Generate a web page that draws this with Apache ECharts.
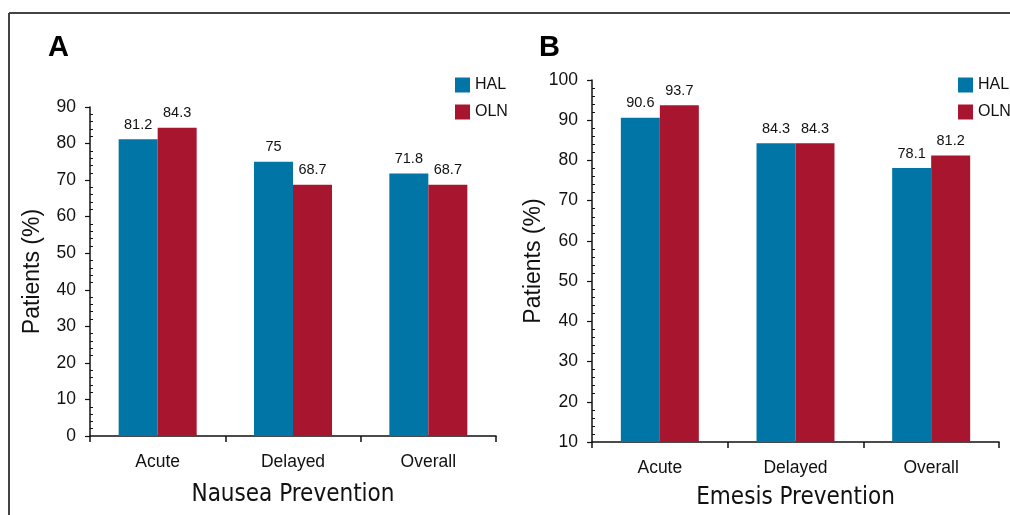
<!DOCTYPE html>
<html>
<head>
<meta charset="utf-8">
<script src="https://cdn.jsdelivr.net/npm/echarts@6/dist/echarts.min.js"></script>
<style>
html,body{margin:0;padding:0;background:#fff;}
#c{width:1010px;height:515px;}
</style>
</head>
<body>
<div id="c"></div>
<script>
const categories = ['Acute', 'Delayed', 'Overall'];
const nauseaHAL = [81.2, 75, 71.8];
const nauseaOLN = [84.3, 68.7, 68.7];
const emesisHAL = [90.6, 84.3, 78.1];
const emesisOLN = [93.7, 84.3, 81.2];
const seriesNames = ['HAL', 'OLN'];
const panelLabels = ['A', 'B'];
const xNames = ['Nausea Prevention', 'Emesis Prevention'];
const yName = 'Patients (%)';

const BLUE = '#0075A6';
const RED = '#A8152E';
const BASE = "'Liberation Sans', Helvetica, Arial, sans-serif";
const NARROW = "'Liberation Sans Narrow', 'DejaVu Sans Condensed', sans-serif";

const chart = echarts.init(document.getElementById('c'), null, {renderer: 'canvas'});

function xAxis(idx, name, gap) {
  return {
    type: 'category', gridIndex: idx, data: categories,
    name: name, nameLocation: 'middle', nameGap: gap,
    nameTextStyle: {fontFamily: NARROW, fontSize: 24, color: '#111'},
    axisLine: {lineStyle: {color: '#111', width: 1.5}},
    axisTick: {show: true, length: 6, lineStyle: {color: '#111', width: 1.5}, alignWithLabel: false},
    axisLabel: {fontFamily: BASE, fontSize: 17.5, color: '#111', margin: 17}
  };
}
function yAxis(idx, min, max) {
  return {
    type: 'value', gridIndex: idx, min: min, max: max, interval: 10,
    name: yName, nameLocation: 'middle', nameGap: 46,
    nameTextStyle: {fontFamily: BASE, fontSize: 23, color: '#111'},
    axisLine: {show: true, lineStyle: {color: '#111', width: 1.5}},
    axisTick: {show: true, length: 5, lineStyle: {color: '#111', width: 1.2}},
    minorTick: {show: true, splitNumber: 5, length: -3, lineStyle: {color: '#111', width: 1}},
    splitLine: {show: false},
    axisLabel: {fontFamily: BASE, fontSize: 17.5, color: '#111', margin: 14}
  };
}
function bar(name, color, data, idx) {
  return {
    name: name, type: 'bar', xAxisIndex: idx, yAxisIndex: idx, data: data,
    barWidth: 39, barGap: '0%',
    itemStyle: {color: color},
    label: {show: true, position: 'top', distance: 7, fontFamily: BASE, fontSize: 14.5, color: '#111'}
  };
}

chart.setOption({
  animation: false,
  backgroundColor: '#fff',
  color: [BLUE, RED],
  grid: [
    {left: 90, right: 514, top: 107, bottom: 79},
    {left: 592, right: 11, top: 80, bottom: 73}
  ],
  xAxis: [xAxis(0, xNames[0], 47), xAxis(1, xNames[1], 44)],
  yAxis: [yAxis(0, 0, 90), yAxis(1, 10, 100)],
  legend: [
    {data: seriesNames, orient: 'vertical', left: 450, top: 72, itemWidth: 15, itemHeight: 15, itemGap: 11, icon: 'rect',
     textStyle: {fontFamily: BASE, fontSize: 16, color: '#111'}},
    {data: seriesNames, orient: 'vertical', left: 953, top: 72, itemWidth: 15, itemHeight: 15, itemGap: 11, icon: 'rect',
     textStyle: {fontFamily: BASE, fontSize: 16, color: '#111'}}
  ],
  title: [
    {text: panelLabels[0], left: 43, top: 28, textStyle: {fontFamily: BASE, fontSize: 29, fontWeight: 'bold', color: '#000'}},
    {text: panelLabels[1], left: 534, top: 28, textStyle: {fontFamily: BASE, fontSize: 29, fontWeight: 'bold', color: '#000'}}
  ],
  graphic: [
    {type: 'line', shape: {x1: 9, y1: 13, x2: 1010, y2: 13}, style: {stroke: '#444', lineWidth: 2}},
    {type: 'line', shape: {x1: 9, y1: 13, x2: 9, y2: 515}, style: {stroke: '#444', lineWidth: 2}}
  ],
  series: [
    bar(seriesNames[0], BLUE, nauseaHAL, 0),
    bar(seriesNames[1], RED, nauseaOLN, 0),
    bar(seriesNames[0], BLUE, emesisHAL, 1),
    bar(seriesNames[1], RED, emesisOLN, 1)
  ]
});
</script>
</body>
</html>
